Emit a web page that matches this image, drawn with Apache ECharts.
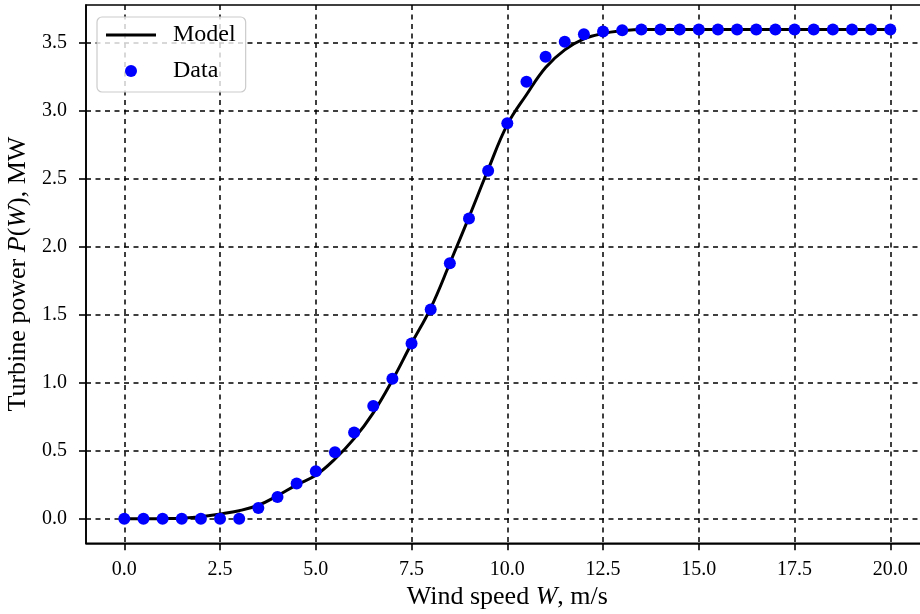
<!DOCTYPE html>
<html>
<head>
<meta charset="utf-8">
<script src="https://cdn.jsdelivr.net/npm/echarts@6/dist/echarts.min.js"></script>
<style>
  html, body { margin: 0; padding: 0; background: #fff; }
  #chart { width: 920px; height: 614px; }
</style>
</head>
<body>
<div id="chart"></div>
<script>
// Wind speed samples (m/s)
const windSpeed = [0, 0.5, 1, 1.5, 2, 2.5, 3, 3.5, 4, 4.5, 5, 5.5, 6, 6.5, 7, 7.5, 8, 8.5, 9, 9.5,
  10, 10.5, 11, 11.5, 12, 12.5, 13, 13.5, 14, 14.5, 15, 15.5, 16, 16.5, 17, 17.5, 18, 18.5, 19, 19.5, 20];

// Fitted power curve (MW)
const modelPower = [0, 0, 0.002, 0.005, 0.015, 0.035, 0.06, 0.10, 0.17, 0.25, 0.32, 0.44, 0.59, 0.78, 1.02, 1.29,
  1.55, 1.88, 2.22, 2.57, 2.90, 3.12, 3.32, 3.45, 3.53, 3.57, 3.59,
  3.6, 3.6, 3.6, 3.6, 3.6, 3.6, 3.6, 3.6, 3.6, 3.6, 3.6, 3.6, 3.6, 3.6];

// Measured power (MW)
const dataPower = [0, 0, 0, 0, 0, 0, 0, 0.08, 0.16, 0.26, 0.35, 0.49, 0.635, 0.83, 1.03, 1.29,
  1.54, 1.88, 2.21, 2.56, 2.91, 3.215, 3.40, 3.51, 3.565, 3.585, 3.595,
  3.6, 3.6, 3.6, 3.6, 3.6, 3.6, 3.6, 3.6, 3.6, 3.6, 3.6, 3.6, 3.6, 3.6];

// Tick positions
const xTicks = [0, 2.5, 5, 7.5, 10, 12.5, 15, 17.5, 20];
const yTicks = [0, 0.5, 1, 1.5, 2, 2.5, 3, 3.5];

const FONT = '"Liberation Serif", "DejaVu Serif", serif';

const modelSeries = windSpeed.map((w, i) => [w, modelPower[i]]);
const dataSeries = windSpeed.map((w, i) => [w, dataPower[i]]);

const gridLine = { show: true, lineStyle: { color: '#000', width: 1.5, type: [5, 4.5] } };

const chart = echarts.init(document.getElementById('chart'), null, { renderer: 'canvas' });
chart.setOption({
  animation: false,
  backgroundColor: '#fff',
  grid: {
    left: 86, top: 5, width: 842.6, height: 538.3,
    outerBoundsMode: 'none', containLabel: false,
    show: true, borderColor: '#000', borderWidth: 1.6, backgroundColor: 'transparent'
  },
  legend: {
    left: 97, top: 17,
    orient: 'vertical',
    itemWidth: 50, itemHeight: 12, itemGap: 12,
    padding: [6, 10, 9, 9],
    backgroundColor: 'rgba(255,255,255,0.8)',
    borderColor: '#cccccc', borderWidth: 1.2, borderRadius: 5,
    textStyle: { fontFamily: FONT, fontSize: 24, color: '#000', padding: [0, 0, 0, 12] },
    data: [
      { name: 'Model', icon: 'path://M0,0H50V3H0Z' },
      { name: 'Data', icon: 'circle' }
    ]
  },
  xAxis: {
    type: 'value', min: -1, max: 21,
    name: 'Wind speed {i|W}, m/s',
    nameLocation: 'middle', nameGap: 38,
    nameTextStyle: {
      fontFamily: FONT, fontSize: 26, color: '#000',
      rich: { i: { fontFamily: FONT, fontSize: 26, fontStyle: 'italic', color: '#000' } }
    },
    axisLine: { show: true, onZero: false, lineStyle: { color: '#000', width: 1.6 } },
    axisTick: { show: true, inside: false, length: 7, customValues: xTicks, lineStyle: { color: '#000', width: 1.6 } },
    axisLabel: {
      customValues: xTicks, margin: 16,
      fontFamily: FONT, fontSize: 20, color: '#000',
      formatter: v => v.toFixed(1)
    },
    splitLine: gridLine
  },
  yAxis: {
    type: 'value', min: -0.18, max: 3.78,
    name: 'Turbine power {i|P}({i|W}), MW',
    nameLocation: 'middle', nameGap: 54,
    nameTextStyle: {
      fontFamily: FONT, fontSize: 26, color: '#000',
      rich: { i: { fontFamily: FONT, fontSize: 26, fontStyle: 'italic', color: '#000' } }
    },
    axisLine: { show: true, onZero: false, lineStyle: { color: '#000', width: 1.6 } },
    axisTick: { show: true, inside: false, length: 7, customValues: yTicks, lineStyle: { color: '#000', width: 1.6 } },
    axisLabel: {
      customValues: yTicks, margin: 19,
      fontFamily: FONT, fontSize: 20, color: '#000',
      formatter: v => v.toFixed(1)
    },
    splitLine: gridLine
  },
  series: [
    {
      name: 'Model', type: 'line', data: modelSeries,
      symbol: 'none', smooth: 0.4,
      lineStyle: { color: '#000', width: 3 }, itemStyle: { color: '#000' },
      z: 2
    },
    {
      name: 'Data', type: 'scatter', data: dataSeries,
      symbol: 'circle', symbolSize: 12,
      itemStyle: { color: '#0000ff', opacity: 1 },
      z: 3
    }
  ]
});
</script>
</body>
</html>
